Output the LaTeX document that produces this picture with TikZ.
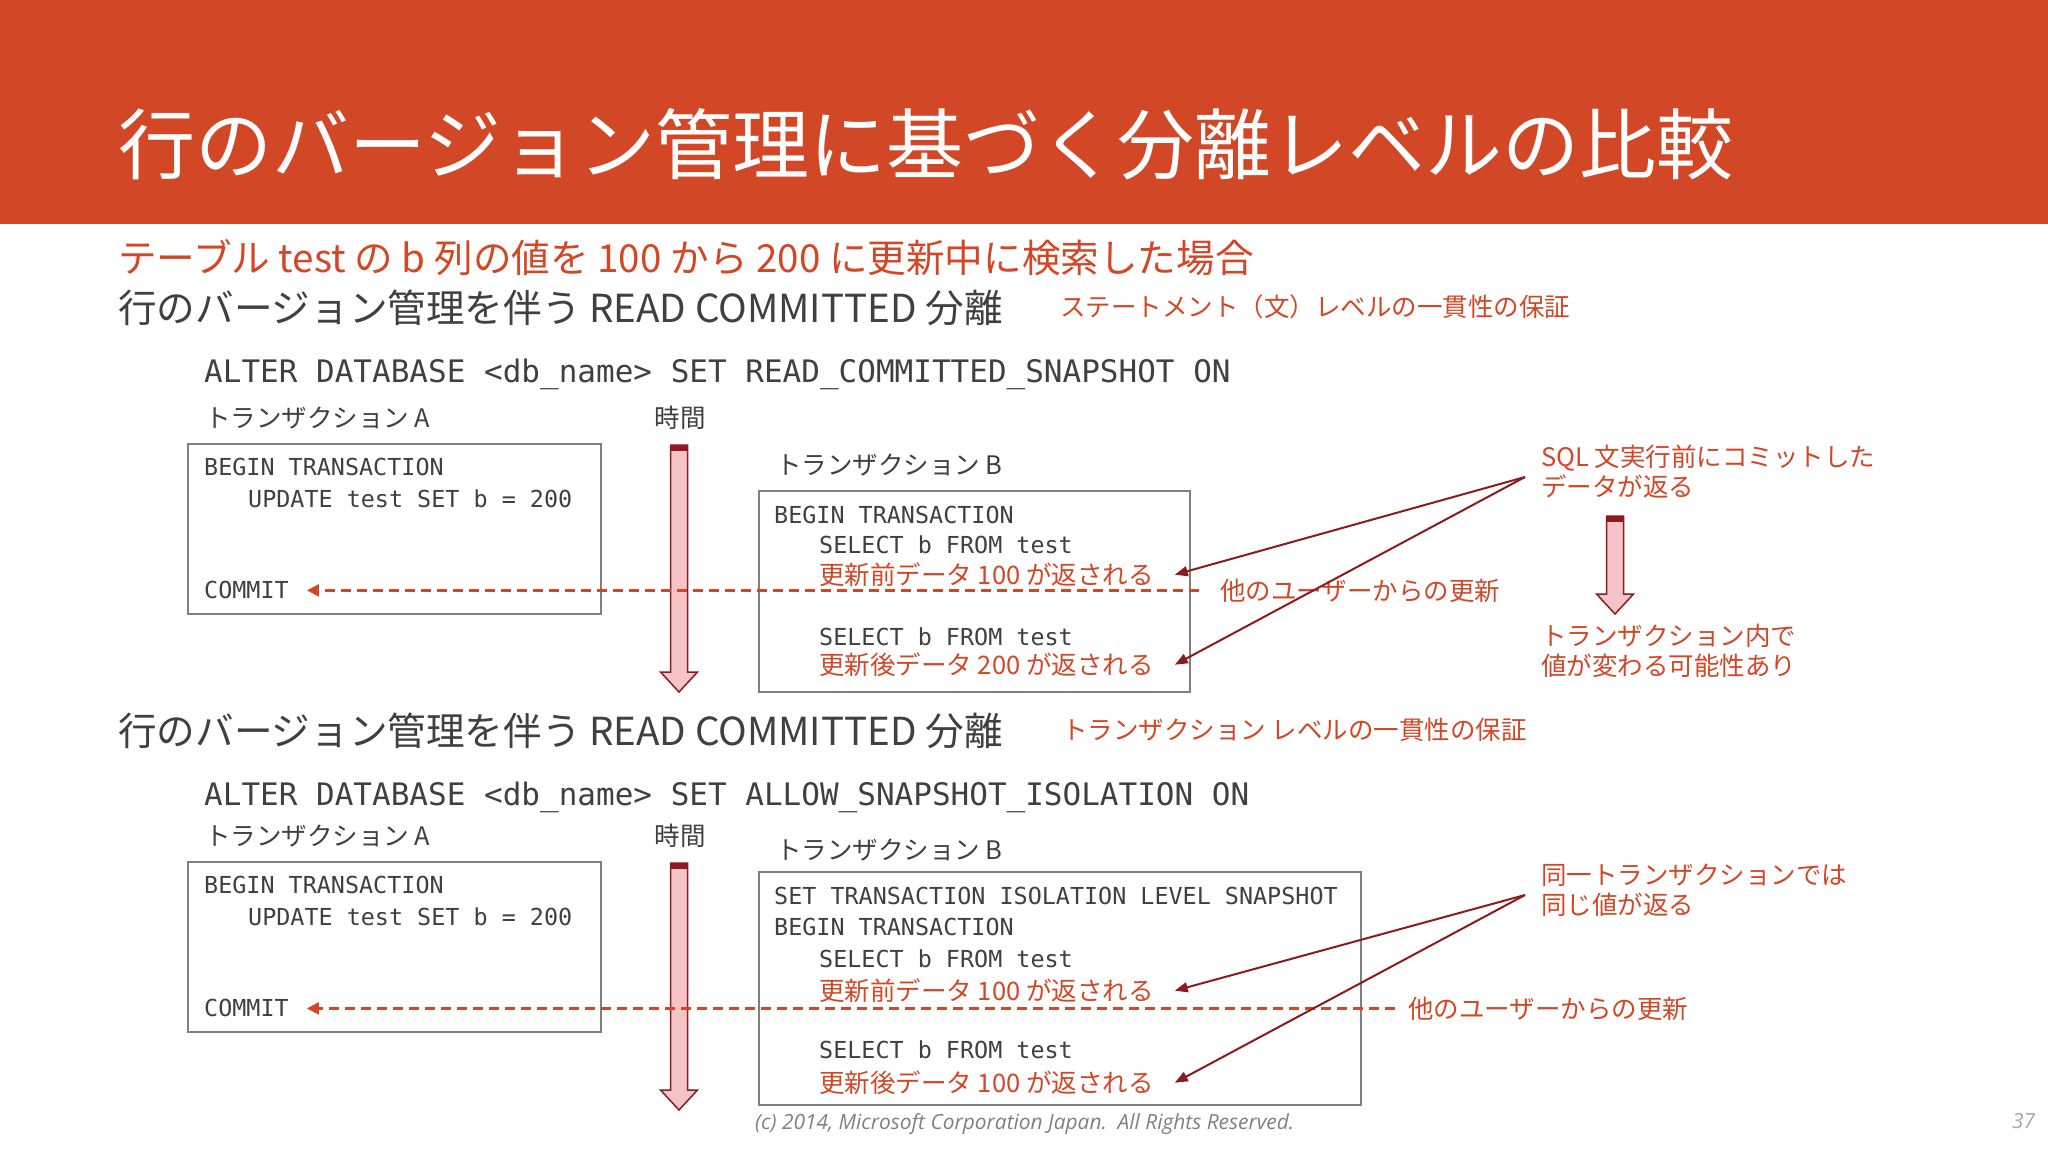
\documentclass[tikz,border=0pt]{standalone}
\usepackage{fontspec}
\setmainfont{Noto Sans CJK JP}
\newfontfamily\codefont{DejaVu Sans Mono}
\newfontfamily\footfont{Open Sans}
\usetikzlibrary{arrows.meta}

\definecolor{accent}{HTML}{D24726}
\definecolor{deepred}{HTML}{8C1A1E}
\definecolor{flowpink}{HTML}{F5C4C7}
\definecolor{inkgray}{HTML}{404040}
\definecolor{framegray}{HTML}{7F7F7F}

\begin{document}
\begin{tikzpicture}[
            x=1pt, y=-1pt,
            txt/.style={
                    anchor=base west,
                    inner sep=0pt,
                    text=inkgray
                },
            slidetitle/.style={
                    txt,
                    text=white,
                    font=\fontsize{77}{90}\selectfont
                },
            head/.style={
                    txt,
                    font=\fontsize{38.6}{46}\selectfont
                },
            lead/.style={
                    head,
                    text=accent
                },
            small/.style={
                    txt,
                    font=\fontsize{25.5}{30}\selectfont
                },
            note/.style={
                    small,
                    text=accent
                },
            sql/.style={
                    txt,
                    font=\codefont\fontsize{31}{36}\selectfont
                },
            code/.style={
                    txt,
                    font=\codefont\fontsize{23.4}{28}\selectfont
                },
            box/.style={
                    draw=framegray,
                    line width=1.5pt
                },
            update/.style={
                    draw=accent,
                    line width=2.5pt,
                    dash pattern=on 10pt off 6pt,
                    -{Triangle[length=12pt, width=12pt]}
                },
            point/.style={
                    draw=deepred,
                    line width=2pt,
                    -{Triangle[length=13pt, width=10pt]}
                },
            flow/.style={
                    draw=deepred,
                    fill=flowpink,
                    line width=1.5pt
                }
        ]

        \useasboundingbox (0,0) rectangle (2048,1152);
        \fill[white] (0,0) rectangle (2048,1152);
        \fill[accent] (0,0) rectangle (2048,224);

        \node[slidetitle] (title) at (118,173) {行のバージョン管理に基づく分離レベルの比較};
        \node[lead] (case) at (118,272) {テーブル test の b 列の値を 100 から 200 に更新中に検索した場合};

        % ---- statement level ----
        \node[head] (rcsi) at (118,322) {行のバージョン管理を伴う READ COMMITTED 分離};
        \node[note] (rcsinote) at (1060,316.5) {ステートメント（文）レベルの一貫性の保証};
        \node[sql] (rcsialter) at (204,382) {ALTER DATABASE <db\_name> SET READ\_COMMITTED\_SNAPSHOT ON};

        \node[small] (tranaa) at (205,427.5) {トランザクション A};
        \node[small, anchor=base] (timea) at (680,427.5) {時間};
        \node[small] (tranab) at (776,474.5) {トランザクション B};

        \draw[box] (188,444) rectangle (601,614);
        \node[code] (begina) at (204,475.5) {BEGIN TRANSACTION};
        \node[code] (updatea) at (248,507.5) {UPDATE test SET b = 200};
        \node[code] (commita) at (204,598.5) {COMMIT};

        \draw[box] (759,491) rectangle (1190,692);
        \node[code] (beginb) at (774,523.5) {BEGIN TRANSACTION};
        \node[code] (selecta) at (819,553.5) {SELECT b FROM test};
        \node[note] (beforea) at (819,584.5) {更新前データ 100 が返される};
        \node[code] (selectb) at (819,645.5) {SELECT b FROM test};
        \node[note] (aftera) at (819,674.5) {更新後データ 200 が返される};

        \node[note] (othera) at (1220,600) {他のユーザーからの更新};

        \node[note] (sqlnote) at (1541,466.5) {SQL 文実行前にコミットした};
        \node[note] (sqlnoteb) at (1541,496.5) {データが返る};
        \node[note] (changenote) at (1541,645.5) {トランザクション内で};
        \node[note] (changenoteb) at (1541,675.5) {値が変わる可能性あり};
        \coordinate (sqlfrom) at (1525,477);

        % ---- transaction level ----
        \node[head] (snap) at (118,745) {行のバージョン管理を伴う READ COMMITTED 分離};
        \node[note] (snapnote) at (1062,739.5) {トランザクション レベルの一貫性の保証};
        \node[sql] (snapalter) at (204,805.3) {ALTER DATABASE <db\_name> SET ALLOW\_SNAPSHOT\_ISOLATION ON};

        \node[small] (tranba) at (205,845.5) {トランザクション A};
        \node[small, anchor=base] (timeb) at (680,845.5) {時間};
        \node[small] (tranbb) at (776,859.5) {トランザクション B};

        \draw[box] (188,862) rectangle (601,1032);
        \node[code] (beginc) at (204,893.5) {BEGIN TRANSACTION};
        \node[code] (updateb) at (248,925.5) {UPDATE test SET b = 200};
        \node[code] (commitb) at (204,1016.5) {COMMIT};

        \draw[box] (759,872) rectangle (1361,1105);
        \node[code] (level) at (774,904.5) {SET TRANSACTION ISOLATION LEVEL SNAPSHOT};
        \node[code] (begind) at (774,935.5) {BEGIN TRANSACTION};
        \node[code] (selectc) at (819,967.5) {SELECT b FROM test};
        \node[note] (beforeb) at (819,1000.5) {更新前データ 100 が返される};
        \node[code] (selectd) at (819,1058.5) {SELECT b FROM test};
        \node[note] (afterb) at (819,1092.5) {更新後データ 100 が返される};

        \node[note] (otherb) at (1408,1018) {他のユーザーからの更新};

        \node[note] (samenote) at (1541,884.5) {同一トランザクションでは};
        \node[note] (samenoteb) at (1541,914.5) {同じ値が返る};
        \coordinate (samefrom) at (1525,895);

        \node[txt, text=gray, font=\footfont\itshape\fontsize{20.9}{24}\selectfont] (copyright) at (755,1129) {(c) 2014, Microsoft Corporation Japan.\ \ All Rights Reserved.};
        \node[txt, text=gray!70, font=\footfont\itshape\fontsize{20.9}{24}\selectfont] (pageno) at (2012,1128) {37};

        \foreach \fx/\fa/\fb in {679/445/692, 679/863/1110, 1615/516/614} {
            \draw[flow] (\fx-8.5,\fa) -- (\fx+8.5,\fa) -- (\fx+8.5,\fb-20) -- (\fx+18.5,\fb-20)
                -- (\fx,\fb) -- (\fx-18.5,\fb-20) -- (\fx-8.5,\fb-20) -- cycle;
            \fill[deepred] (\fx-8.5,\fa) rectangle (\fx+8.5,\fa+6);
        }

        \draw[update, shorten <=21pt, shorten >=18pt] (othera.west) -- (othera.west -| commita.east);
        \draw[update, shorten <=13pt, shorten >=18pt] (otherb.west) -- (otherb.west -| commitb.east);

        \draw[point] (sqlfrom) -- ([xshift=21pt]beforea.east);
        \draw[point] (sqlfrom) -- ([xshift=21pt]aftera.east);

        \draw[point] (samefrom) -- ([xshift=21pt]beforeb.east);
        \draw[point] (samefrom) -- ([xshift=21pt]afterb.east);

    \end{tikzpicture}
\end{document}
